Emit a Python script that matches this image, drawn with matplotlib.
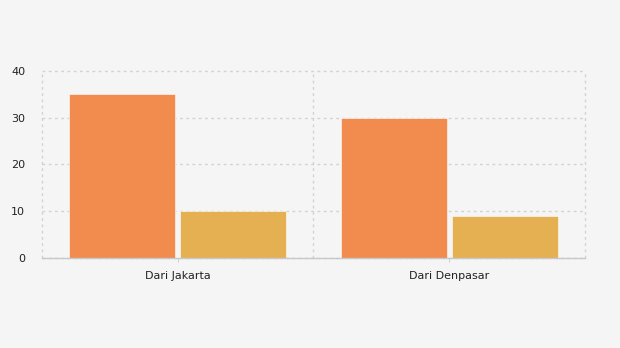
import matplotlib.pyplot as plt
import numpy as np

# ---------- Data ----------
categories = ["Dari Jakarta", "Dari Denpasar"]
series_a = [35, 30]
series_b = [10, 9]
y_ticks = [0, 10, 20, 30, 40]

# ---------- Style ----------
bg = "#f5f5f5"
col_a = "#f28b4e"
col_b = "#e5b052"
grid_col = "#d2d2d2"
dash = (0, (2, 2.5))

fig = plt.figure(figsize=(6.2, 3.48), dpi=100, facecolor=bg)
ax = fig.add_axes([0.0677, 0.2586, 0.8758, 0.5374])
ax.set_facecolor(bg)

x = np.arange(len(categories))
w = 0.39
ax.bar(x - 0.205, series_a, width=w, color=col_a, edgecolor="white", linewidth=0.4, zorder=3)
ax.bar(x + 0.205, series_b, width=w, color=col_b, edgecolor="white", linewidth=0.4, zorder=3)

ax.set_xlim(-0.5, len(categories) - 0.5)
ax.set_ylim(0, 40)
ax.set_yticks(y_ticks)
ax.set_xticks(x)
ax.set_xticklabels(categories, fontsize=8, color="#222222")
ax.tick_params(axis="y", length=0, labelsize=8, labelcolor="#222222", pad=12)
ax.tick_params(axis="x", length=3, color=grid_col, pad=6)

# grid: horizontal at ticks, vertical at category boundaries
ax.grid(axis="y", color=grid_col, linestyle=dash, linewidth=1, zorder=0)
for gl in ax.get_ygridlines():
    gl.set_clip_on(False)
for b in np.arange(-0.5, len(categories), 1.0):
    ax.axvline(b, color=grid_col, linestyle=dash, linewidth=1, zorder=0, clip_on=False)

for s in ["top", "right", "left"]:
    ax.spines[s].set_visible(False)
ax.spines["bottom"].set_color("#c8c8c8")
ax.spines["bottom"].set_linewidth(1)
ax.spines["bottom"].set_zorder(4)

fig.savefig("out.png", dpi=100, facecolor=bg)
